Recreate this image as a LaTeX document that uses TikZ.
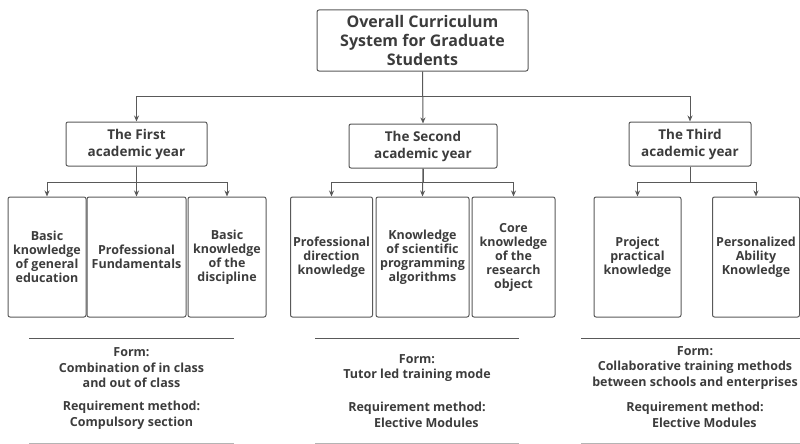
\documentclass[tikz,border=0pt]{standalone}
\usepackage{fontspec}
\setmainfont{Open Sans}
\usetikzlibrary{arrows.meta}
\definecolor{linegray}{HTML}{595959}
\definecolor{textgray}{HTML}{3C3C3C}
\tikzset{
  box/.style={draw=linegray, line width=1pt, rounded corners=2pt, align=center,
    inner sep=2pt, text=textgray},
  topbox/.style={box, minimum width=211pt, minimum height=61pt,
    font=\bfseries\fontsize{16}{19}\selectfont},
  yearbox/.style={box, minimum height=44pt,
    font=\bfseries\fontsize{13.5}{17}\selectfont},
  leafbox/.style={box, minimum height=120pt,
    font=\bfseries\fontsize{12.5}{14}\selectfont},
  note/.style={align=center, text=textgray,
    font=\bfseries\fontsize{12.5}{15.5}\selectfont},
  arr/.style={draw=linegray, line width=1pt, -{Stealth[length=6pt,width=5pt]}}
}
\begin{document}
\begin{tikzpicture}[x=1pt,y=-1pt]
  \useasboundingbox (0,0) rectangle (800,444);
  % root and years
  \node[topbox] (top) at (422.5,40.5) {Overall Curriculum\\System for Graduate\\Students};
  \node[yearbox, minimum width=141pt] (y1) at (136.5,144) {The First\\academic year};
  \node[yearbox, minimum width=148pt] (y2) at (423,146) {The Second\\academic year};
  \node[yearbox, minimum width=122pt] (y3) at (690,144) {The Third\\academic year};
  % courses
  \node[leafbox, minimum width=78pt] (a1) at (47,257) {Basic\\knowledge\\of general\\education};
  \node[leafbox, minimum width=99pt] (a2) at (136.5,257) {Professional\\Fundamentals};
  \node[leafbox, minimum width=78pt] (a3) at (227,257) {Basic\\knowledge\\of the\\discipline};
  \node[leafbox, minimum width=82pt] (b1) at (331.5,257) {Professional\\direction\\knowledge};
  \node[leafbox, minimum width=93pt] (b2) at (422.5,257) {Knowledge\\of scientific\\programming\\algorithms};
  \node[leafbox, minimum width=83pt] (b3) at (513.5,257) {Core\\knowledge\\of the\\research\\object};
  \node[leafbox, minimum width=87pt] (c1) at (637.5,257) {Project\\practical\\knowledge};
  \node[leafbox, minimum width=87pt] (c2) at (756,257) {Personalized\\Ability\\Knowledge};
  \begin{scope}[arr]
    \draw (top.south) -- (y2.north);
    \draw (top.south) -- ++(0,25) -| (y1.north);
    \draw (top.south) -- ++(0,25) -| (y3.north);
    \draw (y1.south) -- (a2.north);
    \draw (y1.south) -- ++(0,16) -| (a1.north);
    \draw (y1.south) -- ++(0,16) -| (a3.north);
    \draw (y2.south) -- (b2.north);
    \draw (y2.south) -- ++(0,14) -| (b1.north);
    \draw (y2.south) -- ++(0,14) -| (b3.north);
    \draw (y3.south) -- ++(0,16) -| (c1.north);
    \draw (y3.south) -- ++(0,16) -| (c2.north);
  \end{scope}
  % form and requirement notes
  \draw[linegray, line width=1pt] (29,338) -- (234,338) (315,338) -- (519,338) (581,338) -- (800,338);
  \draw[linegray!45, line width=1pt] (29,443) -- (234,443) (315,443) -- (519,443) (581,443) -- (800,443);
  \node[note] (f1) at (131.5,368) {Form:\\Combination of in class\\and out of class};
  \node[note] (r1) at (131.5,415) {Requirement method:\\Compulsory section};
  \node[note] (f2) at (417,368) {Form:\\Tutor led training mode};
  \node[note] (r2) at (417,415) {Requirement method:\\\hspace*{1.5em}Elective Modules};
  \node[note] (f3) at (695,368) {Form:\\Collaborative training methods\\between schools and enterprises};
  \node[note] (r3) at (695,415) {Requirement method:\\\hspace*{1.5em}Elective Modules};
\end{tikzpicture}
\end{document}
